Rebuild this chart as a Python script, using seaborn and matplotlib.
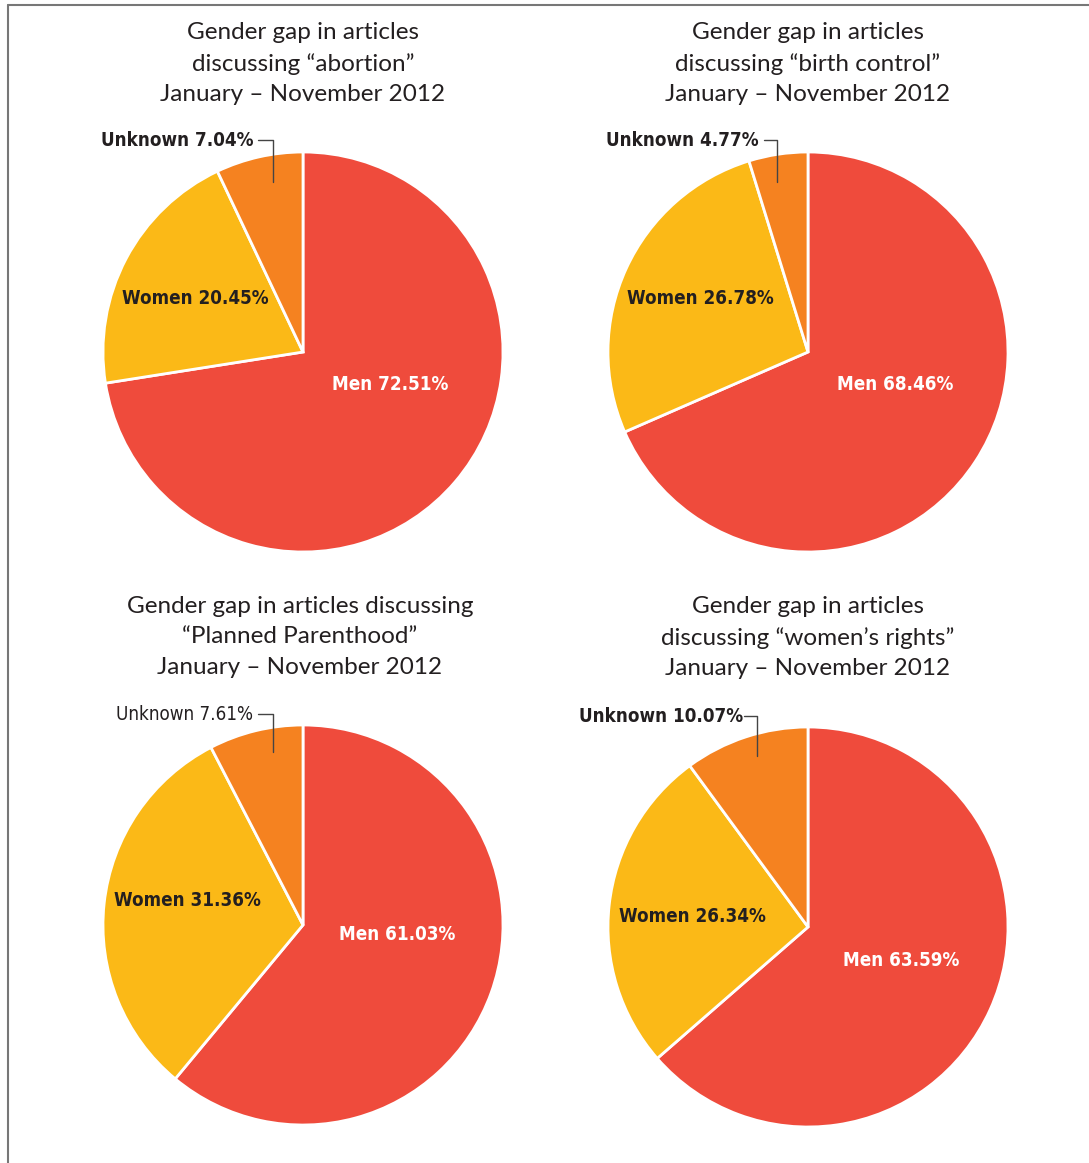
import matplotlib
matplotlib.use("Agg")
import matplotlib.pyplot as plt
from matplotlib.lines import Line2D
import seaborn as sns

categories = ["Men", "Women", "Unknown"]
titles = [
    "Gender gap in articles\ndiscussing \u201cabortion\u201d\nJanuary \u2013 November 2012",
    "Gender gap in articles\ndiscussing \u201cbirth control\u201d\nJanuary \u2013 November 2012",
    "Gender gap in articles discussing\n\u201cPlanned Parenthood\u201d\nJanuary \u2013 November 2012",
    "Gender gap in articles\ndiscussing \u201cwomen\u2019s rights\u201d\nJanuary \u2013 November 2012",
]
abortion = [72.51, 20.45, 7.04]
birth_control = [68.46, 26.78, 4.77]
planned_parenthood = [61.03, 31.36, 7.61]
womens_rights = [63.59, 26.34, 10.07]
series = [abortion, birth_control, planned_parenthood, womens_rights]

colors = ["#EF4B3C", "#FBB917", "#F58220"]

sns.set_theme(style="white")
plt.rcParams["font.family"] = ["Lato", "DejaVu Sans"]

W, H = 1089, 1163
fig = plt.figure(figsize=(W / 100, H / 100), dpi=100)
fig.patch.set_facecolor("white")

# pie centres in pixels, radius 200px
centres = [(303, 352), (808, 352), (303, 925), (808, 927)]
title_x = [303, 808, 300, 808]
title_y = [22, 22, 596, 596]
R = 200

# label placement (pie radius units)
men_pos = [(0.435, -0.165), (0.435, -0.165), (0.47, -0.045), (0.465, -0.17)]
women_pos = [(-0.54, 0.27), (-0.54, 0.27), (-0.58, 0.12), (-0.58, 0.05)]
unk_text = [(-0.245, 1.06), (-0.245, 1.06), (-0.25, 1.055), (-0.325, 1.055)]
unk_line = [(-0.225, -0.15, 0.85), (-0.22, -0.155, 0.85),
            (-0.225, -0.15, 0.865), (-0.32, -0.255, 0.855)]
unk_bold = [True, True, False, True]

label_kw = dict(family=["DejaVu Sans"], fontstretch="condensed", fontsize=13.5)

for i, vals in enumerate(series):
    cx, cy = centres[i]
    ax = fig.add_axes([(cx - R) / W, (H - cy - R) / H, 2 * R / W, 2 * R / H])
    ax.pie(vals, colors=colors, startangle=90, counterclock=False,
           wedgeprops=dict(edgecolor="white", linewidth=2), radius=1)
    ax.set_xlim(-1, 1)
    ax.set_ylim(-1, 1)
    ax.set_aspect("equal")
    ax.axis("off")

    ax.text(*men_pos[i], f"{categories[0]} {vals[0]:.2f}%", color="white",
            ha="center", va="center", fontweight="bold", **label_kw)
    ax.text(*women_pos[i], f"{categories[1]} {vals[1]:.2f}%", color="#231F20",
            ha="center", va="center", fontweight="bold", **label_kw)
    ax.text(*unk_text[i], f"{categories[2]} {vals[2]:.2f}%", color="#231F20",
            ha="right", va="center",
            fontweight="bold" if unk_bold[i] else "normal",
            clip_on=False, **label_kw)
    x0, x1, y1 = unk_line[i]
    ty = unk_text[i][1]
    ax.plot([x0, x1, x1], [ty, ty, y1], color="#444444", lw=1, clip_on=False)

    fig.text(title_x[i] / W, 1 - title_y[i] / H, titles[i], ha="center",
             va="top", fontsize=17.5, color="#231F20", linespacing=1.55)

# frame (left and top edges)
fig.add_artist(Line2D([8 / W, 8 / W], [0, 1 - 5 / H], color="#777777", lw=1.5,
                      transform=fig.transFigure))
fig.add_artist(Line2D([8 / W, 1], [1 - 5 / H, 1 - 5 / H], color="#777777",
                      lw=1.5, transform=fig.transFigure))

fig.savefig("out.png", dpi=100)
